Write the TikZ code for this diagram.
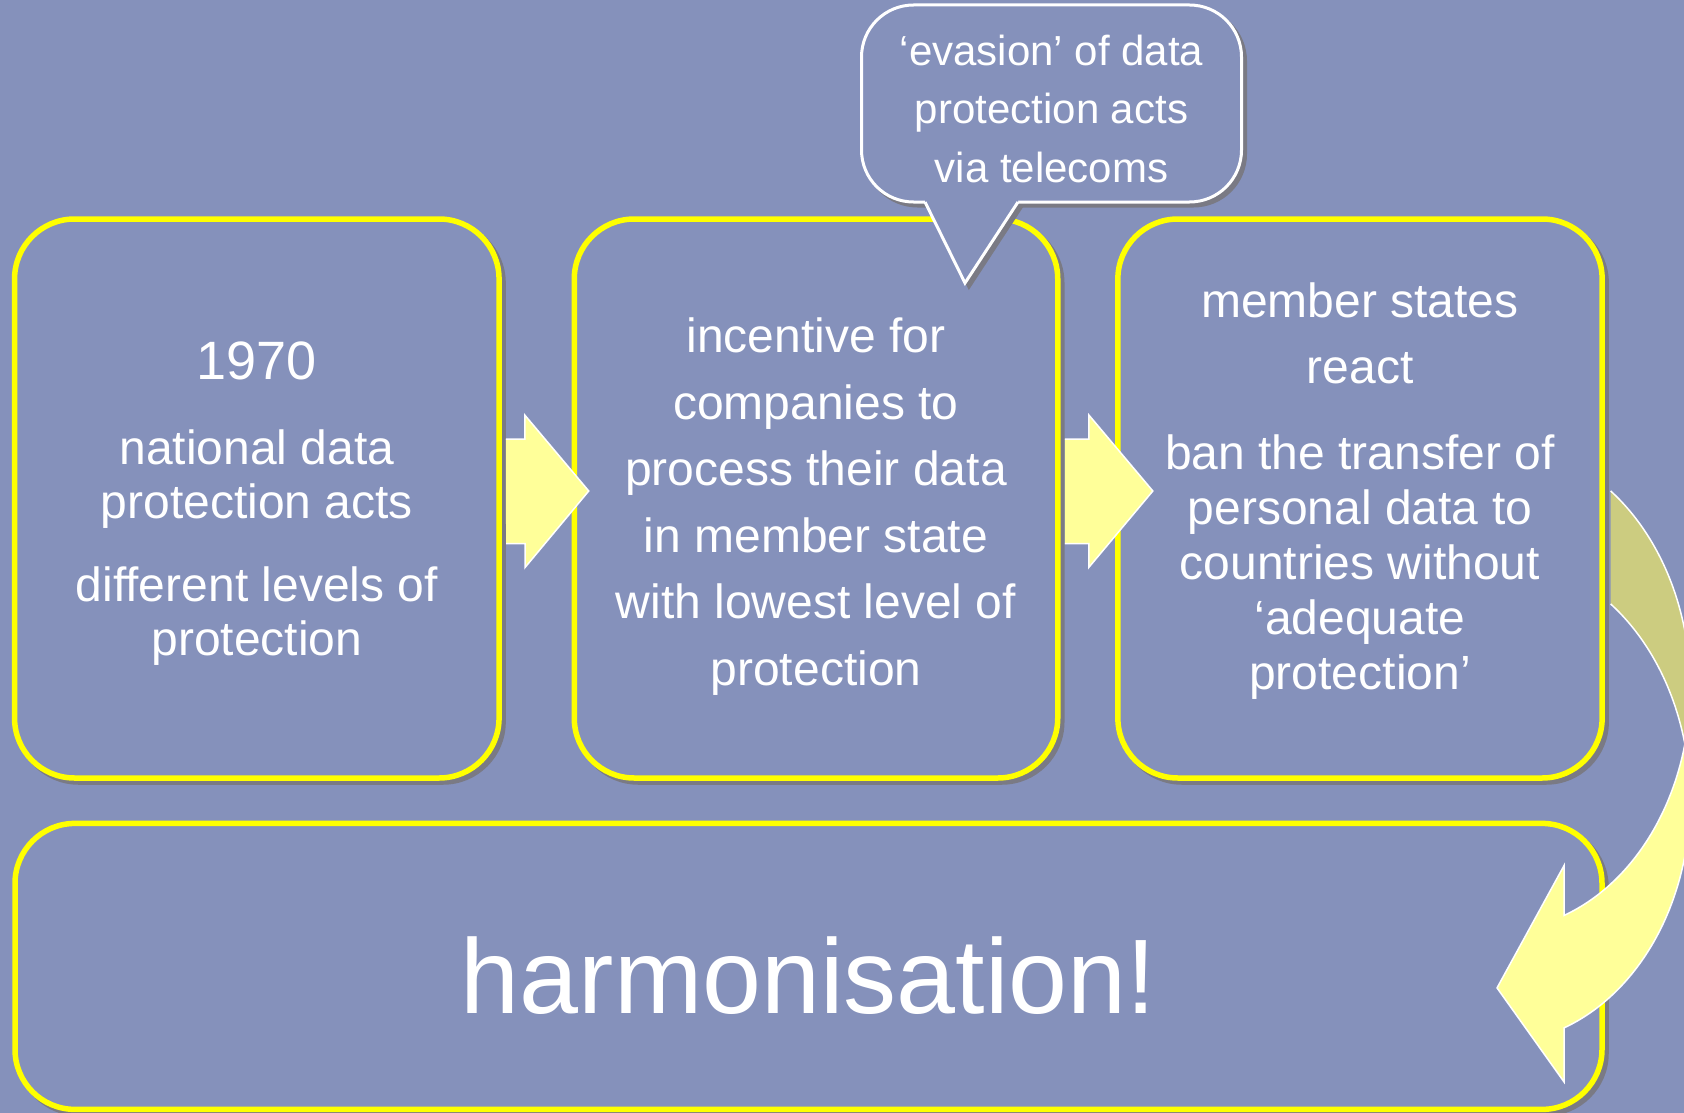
\documentclass[tikz,border=0pt]{standalone}
\usepackage{fontspec}
\setmainfont[Ligatures={TeX,NoCommon}]{Liberation Sans}
\usetikzlibrary{calc}
\definecolor{SlideBlue}{RGB}{133,145,187}
\definecolor{BoxYellow}{RGB}{255,255,0}
\definecolor{ArrowYellow}{RGB}{255,255,153}
\definecolor{ArrowDark}{RGB}{204,204,128}
\definecolor{ShadowGray}{RGB}{122,122,132}

\begin{document}
\begin{tikzpicture}[x=1pt, y=-1pt,
	Box/.style={draw=BoxYellow, line width=5.5pt, fill=SlideBlue, rounded corners=60pt, inner sep=0pt, outer sep=0pt,
		preaction={draw=ShadowGray, fill=ShadowGray, line width=5.5pt, transform canvas={shift={(4pt,-4pt)}}}},
	Txt/.style={text=white, align=center, inner sep=0pt},
	Arrow/.style={fill=ArrowYellow, draw=white, line width=1.5pt},
	Back/.style={fill=ArrowDark, draw=white, line width=1.5pt},
	Bubble/.style={draw=white, line width=3pt, fill=SlideBlue, rounded corners=52pt, inner sep=0pt, outer sep=0pt,
		preaction={draw=ShadowGray, fill=ShadowGray, line width=3pt, transform canvas={shift={(4pt,-4pt)}}}}]
				\useasboundingbox (0,0) rectangle (1684,1113);
				\clip (0,0) rectangle (1684,1113);
				\fill[SlideBlue] (0,0) rectangle (1684,1113);
				% the four boxes
				\node[Box, minimum width=484.5, minimum height=559] (nat) at (256.8,498.5) {};
				\node[Box, minimum width=483.5, minimum height=559] (inc) at (816,498.5) {};
				\node[Box, minimum width=484.3, minimum height=559] (react) at (1360,498.5) {};
				\node[Box, minimum width=1587, minimum height=286] (harm) at (808.5,966.4) {};
				% straight arrows
				\draw[Arrow] ($(nat.east)+(7,45)$) -- ++(19,0) -- ++(0,24) -- ($(inc.west)+(14.5,-7.5)$) -- ++(-64,-76) -- ++(0,24) -- ++(-19,0);
				\draw[Arrow] ($(inc.east)+(7,45)$) -- ++(24,0) -- ++(0,24) -- ($(react.west)+(35,-7.5)$) -- ++(-64,-76) -- ++(0,24) -- ++(-24,0);
				% curved arrow
				\coordinate (bend) at ($(react.east)+(-105,189)$);
				\coordinate (bendlow) at ($(bend)+(0,113)$);
				\draw[Back] ([shift={(-54:193 and 243)}]bendlow) arc[start angle=-54, end angle=0, x radius=193, y radius=243]
					-- ([shift={(0:193 and 243)}]bend) arc[start angle=0, end angle=-54, x radius=193, y radius=243];
				\draw[Arrow] ([shift={(0:193 and 243)}]bendlow) -- ([shift={(0:193 and 243)}]bend)
					arc[start angle=0, end angle=69.7, x radius=193, y radius=243] -- ++(0,-50)
					-- ($(harm.east)+(-105,21.5)$) -- ++(67,94) -- ++(0,-54)
					arc[start angle=69.7, end angle=0, x radius=193, y radius=243] -- cycle;
				% texts
				\node[Txt, font=\fontsize{48}{54}\selectfont] (natText) at (256.8,503.5) {{\fontsize{54}{54}\selectfont 1970}\\[31pt] national data\\ protection acts\\[29pt] different levels of\\ protection};
				\node[Txt, font=\fontsize{48}{66.5}\selectfont] (incText) at (816,506.5) {incentive for\\ companies to\\ process their data\\ in member state\\ with lowest level of\\ protection};
				\node[Txt, font=\fontsize{48}{55}\selectfont] (reactText) at (1360,491) {member states\\[11pt] react\\[31pt] ban the transfer of\\ personal data to\\ countries without\\ ‘adequate\\ protection’};
				\node[Txt, font=\fontsize{106}{120}\selectfont] (harmText) at (808.5,976) {harmonisation!};
				% callout
				\node[Bubble, minimum width=380, minimum height=197] (evasion) at (1051.5,103.5) {};
				\draw[ShadowGray, fill=ShadowGray, line width=3pt] ($(evasion.south)+(-122.5,4)$) -- ($(evasion.south)+(-82.5,85)$) -- ($(evasion.south)+(-29.5,4)$) -- cycle;
				\fill[SlideBlue] ($(evasion.south)+(-126.5,-3)$) -- ($(evasion.south)+(-126.5,0)$) -- ($(evasion.south)+(-86.5,81)$) -- ($(evasion.south)+(-33.5,0)$) -- ($(evasion.south)+(-33.5,-3)$) -- cycle;
				\draw[white, line width=3pt] ($(evasion.south)+(-126.5,0)$) -- ($(evasion.south)+(-86.5,81)$) -- ($(evasion.south)+(-33.5,0)$);
				\node[Txt, font=\fontsize{42}{58.5}\selectfont] (evasionText) at ($(evasion)+(0,5)$) {‘evasion’ of data\\ protection acts\\ via telecoms};
			\end{tikzpicture}
\end{document}
